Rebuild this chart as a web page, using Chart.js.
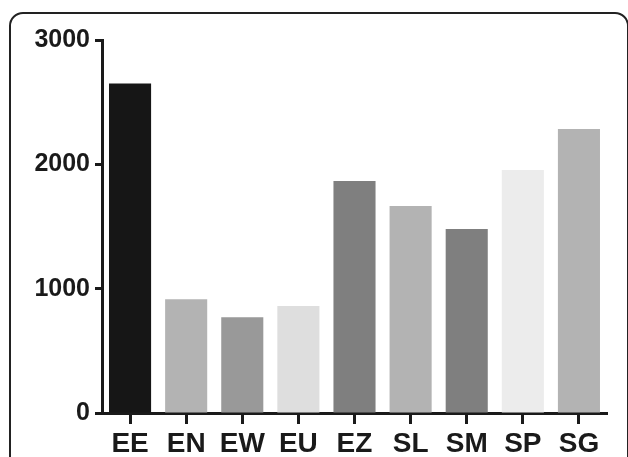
<!DOCTYPE html>
<html>
<head>
<meta charset="utf-8">
<script src="https://cdn.jsdelivr.net/npm/chart.js@4/dist/chart.umd.min.js"></script>
<style>
  html, body { margin: 0; padding: 0; background: #fff; }
  #wrap { position: relative; width: 628px; height: 457px; overflow: hidden; }
  #frame {
    position: absolute; left: 9px; top: 12px; width: 620px; height: 500px;
    border: 2px solid #222; border-radius: 14px; box-sizing: border-box;
  }
  canvas { position: absolute; left: 0; top: 0; }
</style>
</head>
<body>
<div id="wrap">
  <div id="frame"></div>
  <canvas id="chart" width="628" height="457"></canvas>
</div>
<script>
// Sample groups and their counts
const categories = ["EE", "EN", "EW", "EU", "EZ", "SL", "SM", "SP", "SG"];
const counts = [2650, 915, 770, 860, 1865, 1665, 1480, 1955, 2285];
const yTicks = [0, 1000, 2000, 3000];

const barColors = ["#161616", "#b3b3b3", "#999999", "#dedede", "#7f7f7f",
                   "#b3b3b3", "#7f7f7f", "#ececec", "#b3b3b3"];

const ink = "#1a1a1a";
const font = "'Liberation Sans', Arial, sans-serif";

new Chart(document.getElementById("chart"), {
  type: "bar",
  data: {
    labels: categories,
    datasets: [{
      data: counts,
      backgroundColor: barColors,
      borderWidth: 0,
      barPercentage: 0.75,
      categoryPercentage: 1.0,
    }],
  },
  options: {
    responsive: false,
    animation: false,
    layout: { padding: { top: 40, right: 21, bottom: 0, left: 0 } },
    plugins: { legend: { display: false }, tooltip: { enabled: false } },
    scales: {
      x: {
        grid: {
          offset: false,
          drawOnChartArea: false,
          tickLength: 11,
          tickWidth: 3,
          tickColor: ink,
        },
        border: { display: true, width: 3, color: ink },
        ticks: {
          color: ink,
          padding: 3,
          font: { family: font, size: 28, weight: "bold" },
          maxRotation: 0,
        },
        afterFit: (s) => { s.height = 44; },
      },
      y: {
        min: 0,
        max: 3000,
        afterBuildTicks: (s) => { s.ticks = yTicks.map((v) => ({ value: v })); },
        grid: {
          drawOnChartArea: false,
          tickLength: 7,
          tickWidth: 3,
          tickColor: ink,
        },
        border: { display: true, width: 3, color: ink },
        ticks: {
          color: ink,
          padding: 5,
          font: { family: font, size: 25, weight: "bold" },
          callback: (v) => String(v),
        },
        afterFit: (s) => { s.width = 102; },
      },
    },
  },
});
</script>
</body>
</html>
